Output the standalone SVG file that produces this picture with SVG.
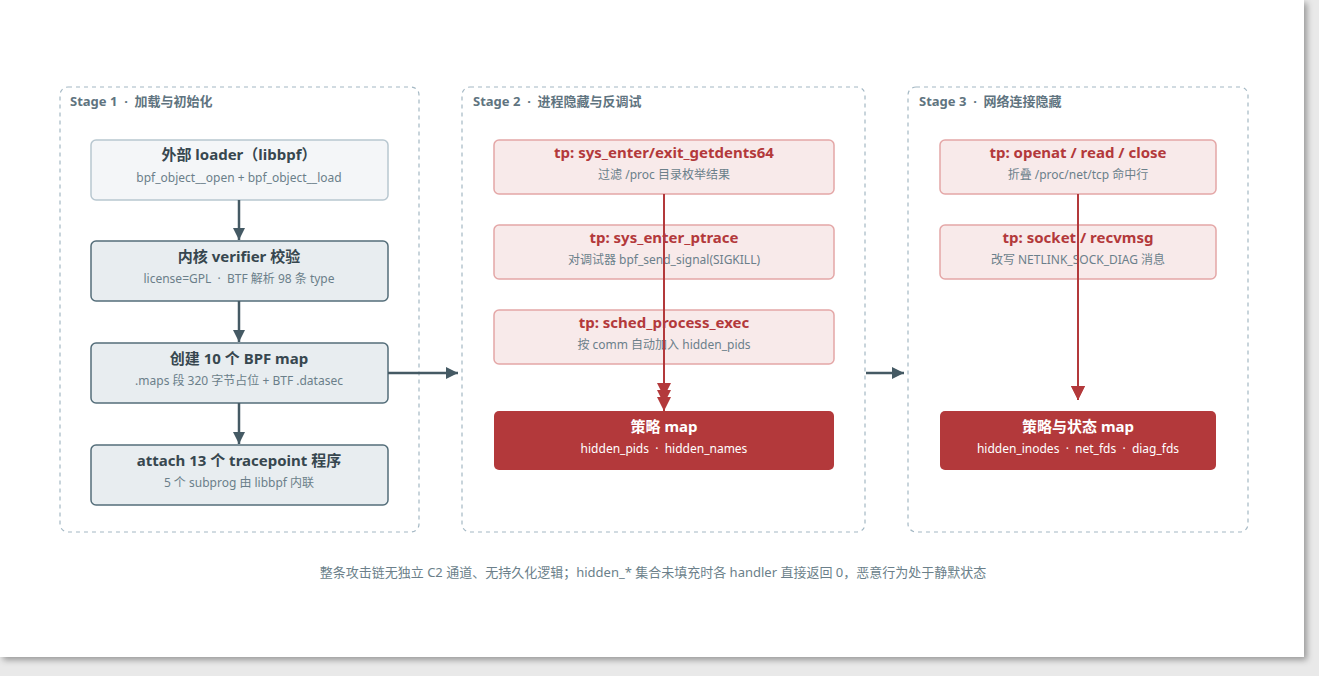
<svg xmlns="http://www.w3.org/2000/svg" width="1319" height="676" viewBox="0 0 1319 676">
<defs>
<filter id="sh" x="-5%" y="-5%" width="110%" height="110%"><feDropShadow dx="3" dy="3" stdDeviation="3" flood-color="#000" flood-opacity="0.35"/></filter>
<marker id="ag" viewBox="0 0 10 10" refX="10" refY="5" markerWidth="5" markerHeight="5" orient="auto" markerUnits="strokeWidth"><path d="M0,0L10,5L0,10z" fill="#455a64"/></marker>
<marker id="ar" viewBox="0 0 10 10" refX="10" refY="5" markerWidth="7" markerHeight="7" orient="auto" markerUnits="strokeWidth"><path d="M0,0L10,5L0,10z" fill="#b3393b"/></marker>
</defs>
<style>
text{font-family:"Source Sans Pro","Noto Sans","Noto Sans CJK SC",sans-serif;text-anchor:middle;white-space:pre}
.stage{fill:none;stroke:#a4b8c4;stroke-width:1.2;stroke-dasharray:4 4}
.sl{font-size:13px;font-weight:bold;fill:#5f7480;text-anchor:start}
.g1{fill:#f4f6f8;stroke:#b8c7d0;stroke-width:1.5}
.g2{fill:#e8edf0;stroke:#546e7a;stroke-width:1.5}
.r1{fill:#f8eaea;stroke:#e4a7a7;stroke-width:1.5}
.r2{fill:#b3393b}
.tg{font-size:15px;font-weight:bold;fill:#37474f}
.tr{font-size:15px;font-weight:bold;fill:#b3393b}
.tw{font-size:15px;font-weight:bold;fill:#fff}
.s{font-size:12px;fill:#6b7f8a}
.sw{font-size:12px;fill:#fff}
</style>
<rect width="1319" height="676" fill="#e9e9e9"/>
<rect x="0" y="0" width="1304" height="657" fill="#fff" filter="url(#sh)"/>
<rect class="stage" x="60" y="87" width="359" height="445" rx="8"/>
<rect class="stage" x="462" y="87" width="403" height="445" rx="8"/>
<rect class="stage" x="908" y="87" width="340" height="445" rx="8"/>
<text class="sl" x="70" y="106">Stage 1  ·  加载与初始化</text>
<text class="sl" x="473" y="106">Stage 2  ·  进程隐藏与反调试</text>
<text class="sl" x="919" y="106">Stage 3  ·  网络连接隐藏</text>
<g id="n1"><rect class="g1" x="91" y="140" width="297" height="60" rx="5"/><text class="tg" x="239" y="160">外部 loader（libbpf）</text><text class="s" x="239" y="182">bpf_object__open + bpf_object__load</text></g>
<g id="n2"><rect class="g2" x="91" y="241" width="297" height="60" rx="5"/><text class="tg" x="239" y="262">内核 verifier 校验</text><text class="s" x="239" y="283">license=GPL  ·  BTF 解析 98 条 type</text></g>
<g id="n3"><rect class="g2" x="91" y="343" width="297" height="60" rx="5"/><text class="tg" x="239" y="364">创建 10 个 BPF map</text><text class="s" x="239" y="385">.maps 段 320 字节占位 + BTF .datasec</text></g>
<g id="n4"><rect class="g2" x="91" y="445" width="297" height="60" rx="5"/><text class="tg" x="239" y="466">attach 13 个 tracepoint 程序</text><text class="s" x="239" y="487">5 个 subprog 由 libbpf 内联</text></g>
<g id="n5"><rect class="r1" x="494" y="140" width="340" height="54" rx="5"/><text class="tr" x="664" y="158">tp: sys_enter/exit_getdents64</text><text class="s" x="664" y="179">过滤 /proc 目录枚举结果</text></g>
<g id="n6"><rect class="r1" x="494" y="225" width="340" height="54" rx="5"/><text class="tr" x="664" y="243">tp: sys_enter_ptrace</text><text class="s" x="664" y="264">对调试器 bpf_send_signal(SIGKILL)</text></g>
<g id="n7"><rect class="r1" x="494" y="310" width="340" height="54" rx="5"/><text class="tr" x="664" y="328">tp: sched_process_exec</text><text class="s" x="664" y="349">按 comm 自动加入 hidden_pids</text></g>
<g id="n8"><rect class="r2" x="494" y="411" width="340" height="59" rx="5"/><text class="tw" x="664" y="432">策略 map</text><text class="sw" x="664" y="453">hidden_pids  ·  hidden_names</text></g>
<g id="n9"><rect class="r1" x="940" y="140" width="276" height="54" rx="5"/><text class="tr" x="1078" y="158">tp: openat / read / close</text><text class="s" x="1078" y="179">折叠 /proc/net/tcp 命中行</text></g>
<g id="n10"><rect class="r1" x="940" y="225" width="276" height="54" rx="5"/><text class="tr" x="1078" y="243">tp: socket / recvmsg</text><text class="s" x="1078" y="264">改写 NETLINK_SOCK_DIAG 消息</text></g>
<g id="n11"><rect class="r2" x="940" y="411" width="276" height="59" rx="5"/><text class="tw" x="1078" y="432">策略与状态 map</text><text class="sw" x="1078" y="453">hidden_inodes  ·  net_fds  ·  diag_fds</text></g>
<g id="connectors" fill="none" stroke-width="2.5">
<g stroke="#455a64" marker-end="url(#ag)">
<line x1="239" y1="200" x2="239" y2="240"/>
<line x1="239" y1="301" x2="239" y2="342"/>
<line x1="239" y1="403" x2="239" y2="444"/>
<line x1="388" y1="373" x2="458" y2="373"/>
<line x1="866" y1="373" x2="904" y2="373"/>
</g>
<g stroke="#b3393b" stroke-width="2" marker-end="url(#ar)">
<line x1="664" y1="194" x2="664" y2="397"/>
<line x1="664" y1="279" x2="664" y2="404"/>
<line x1="664" y1="364" x2="664" y2="411"/>
<line x1="1078" y1="194" x2="1078" y2="400"/>
<line x1="1078" y1="279" x2="1078" y2="400"/>
</g>
</g>
<text x="653" y="577" style="font-size:13px;fill:#6b7f8a">整条攻击链无独立 C2 通道、无持久化逻辑；hidden_* 集合未填充时各 handler 直接返回 0，恶意行为处于静默状态</text>
</svg>
